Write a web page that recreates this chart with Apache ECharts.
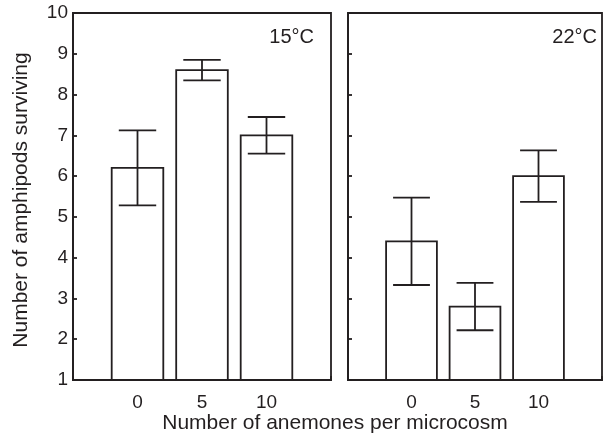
<!DOCTYPE html>
<html>
<head>
<meta charset="utf-8">
<script src="https://cdn.jsdelivr.net/npm/echarts@6/dist/echarts.min.js"></script>
<style>
  html, body { margin: 0; background: #fff; }
  #chart { width: 605px; height: 437px; }
</style>
</head>
<body>
<div id="chart"></div>
<script>
// number of anemones per microcosm
var anemones = [0, 5, 10];
// 15 °C panel
var mean15 = [6.2, 8.6, 7.0];
var err15 = [0.92, 0.25, 0.45];
// 22 °C panel
var mean22 = [4.4, 2.8, 6.0];
var err22 = [1.07, 0.58, 0.63];
var panelLabels = ['15°C', '22°C'];

var ink = '#231f20';
var font = 'Liberation Sans, Arial, sans-serif';

function rows(means, errs) {
  return anemones.map(function (a, i) { return [a, means[i], errs[i]]; });
}

// bar + error bar drawn through the axes' own coords
function renderBar(params, api) {
  var x = api.value(0), m = api.value(1), e = api.value(2);
  var p0 = api.coord([x - 2, 1]);
  var p1 = api.coord([x + 2, m]);
  var hi = api.coord([x, m + e]);
  var lo = api.coord([x, m - e]);
  var capL = api.coord([x - 1.45, m])[0];
  var capR = api.coord([x + 1.45, m])[0];
  var st = { stroke: ink, lineWidth: 1.8, fill: null };
  return {
    type: 'group',
    children: [
      { type: 'rect', shape: { x: p0[0], y: p1[1], width: p1[0] - p0[0], height: p0[1] - p1[1] },
        style: { fill: '#fff', stroke: ink, lineWidth: 1.8 } },
      { type: 'line', shape: { x1: hi[0], y1: hi[1], x2: lo[0], y2: lo[1] }, style: st },
      { type: 'line', shape: { x1: capL, y1: hi[1], x2: capR, y2: hi[1] }, style: st },
      { type: 'line', shape: { x1: capL, y1: lo[1], x2: capR, y2: lo[1] }, style: st }
    ]
  };
}

function xAxisOpt(idx) {
  return {
    gridIndex: idx, type: 'value', min: -5, max: 15, interval: 5,
    axisLine: { onZero: false, lineStyle: { color: ink, width: 1.8 } },
    axisTick: { inside: true, length: 4, lineStyle: { color: ink, width: 1.8 } },
    axisLabel: {
      color: ink, fontSize: 19, fontFamily: font, margin: 13,
      formatter: function (v) { return anemones.indexOf(v) >= 0 ? String(v) : ''; }
    },
    splitLine: { show: false }
  };
}

function yAxisOpt(idx) {
  return {
    gridIndex: idx, type: 'value', min: 1, max: 10, interval: 1,
    axisLine: { onZero: false, lineStyle: { color: ink, width: 1.8 } },
    axisTick: { inside: true, length: 4, lineStyle: { color: ink, width: 1.8 } },
    axisLabel: { show: idx === 0, color: ink, fontSize: 19, fontFamily: font, margin: 5 },
    splitLine: { show: false }
  };
}

var myChart = echarts.init(document.getElementById('chart'));

var option = {
  animation: false,
  backgroundColor: '#fff',
  grid: [
    { left: 73, top: 13, width: 258, height: 367, show: true, borderColor: ink, borderWidth: 1.8, backgroundColor: 'transparent' },
    { left: 348, top: 13, width: 255, height: 367, show: true, borderColor: ink, borderWidth: 1.8, backgroundColor: 'transparent' }
  ],
  xAxis: [xAxisOpt(0), xAxisOpt(1)],
  yAxis: [yAxisOpt(0), yAxisOpt(1)],
  series: [
    { type: 'custom', xAxisIndex: 0, yAxisIndex: 0, renderItem: renderBar, data: rows(mean15, err15) },
    { type: 'custom', xAxisIndex: 1, yAxisIndex: 1, renderItem: renderBar, data: rows(mean22, err22) }
  ],
  graphic: [
    { type: 'text', x: 314, y: 37, style: { text: panelLabels[0], fill: ink, fontSize: 20, fontFamily: font, align: 'right', verticalAlign: 'middle' } },
    { type: 'text', x: 597, y: 37, style: { text: panelLabels[1], fill: ink, fontSize: 20, fontFamily: font, align: 'right', verticalAlign: 'middle' } },
    { type: 'text', x: 335, y: 423, style: { text: 'Number of anemones per microcosm', fill: ink, fontSize: 21, fontFamily: font, align: 'center', verticalAlign: 'middle' } },
    { type: 'text', x: 21, y: 200, rotation: Math.PI / 2, style: { text: 'Number of amphipods surviving', fill: ink, fontSize: 21, fontFamily: font, align: 'center', verticalAlign: 'middle' } }
  ]
};

myChart.setOption(option);
</script>
</body>
</html>
